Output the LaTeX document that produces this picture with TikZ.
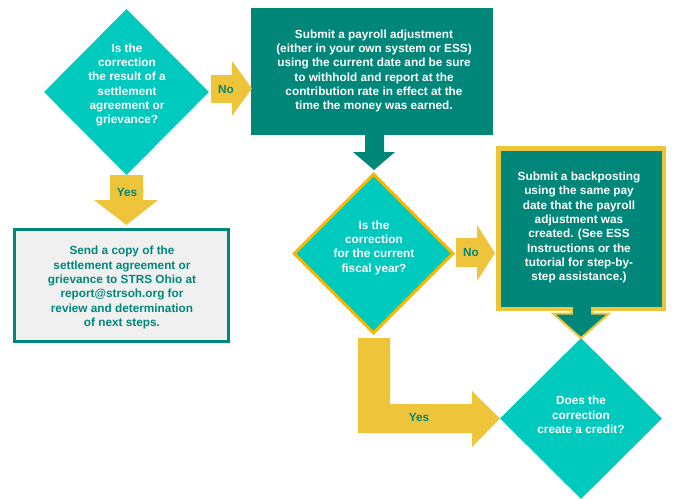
\documentclass[tikz,border=0pt]{standalone}
\usepackage{fontspec}
\setmainfont{Liberation Sans}
\usetikzlibrary{shapes.geometric}
\definecolor{aqua}{RGB}{0,201,190}
\definecolor{deepteal}{RGB}{0,135,122}
\definecolor{gold}{RGB}{238,196,58}
\definecolor{amber}{RGB}{248,186,0}
\definecolor{paper}{RGB}{240,240,240}
\tikzset{
  question/.style={diamond, fill=aqua, inner sep=0pt, aspect=1},
  qtext/.style={text=white, align=center, font=\fontsize{11.8}{14.3}\selectfont\bfseries},
  action/.style={rectangle, fill=deepteal, inner sep=0pt},
  atext/.style={text=white, align=center, font=\fontsize{11.8}{14.3}\selectfont\bfseries},
  blockarrow/.style={fill=gold, draw=none},
  tealarrow/.style={fill=deepteal, draw=none},
  answer/.style={text=deepteal, font=\fontsize{11.8}{14}\selectfont\bfseries},
}
\begin{document}
\begin{tikzpicture}[x=1pt,y=-1pt]
\useasboundingbox (0,0) rectangle (695,498);

% decision: settlement or grievance
\node[question, minimum width=165pt, minimum height=166pt] (q1) at (126.5,92) {};
\node[qtext] (q1t) at (127,85) {Is the\\correction\\the result of a\\settlement\\agreement or\\grievance?};

% payroll adjustment box
\node[action, minimum width=242pt, minimum height=127pt] (adj) at (372,71.5) {};
\node[atext] (adjt) at (374,71) {Submit a payroll adjustment\\(either in your own system or ESS)\\using the current date and be sure\\to withhold and report at the\\contribution rate in effect at the\\time the money was earned.};

% settlement box
\node[rectangle, fill=paper, draw=deepteal, line width=3pt, minimum width=214pt, minimum height=112pt] (send) at (121.5,285.5) {};
\node[answer, align=center, font=\fontsize{11.8}{14.3}\selectfont\bfseries] (sendt) at (122,287.5) {Send a copy of the\\settlement agreement or\\grievance to STRS Ohio at\\report@strsoh.org for\\review and determination\\of next steps.};

% decision: current fiscal year
\node[question, draw=amber, line width=3pt, minimum width=160pt, minimum height=160pt] (q2) at (373.5,253.5) {};
\node[qtext] (q2t) at (374,247.5) {Is the\\correction\\for the current\\fiscal year?};

% backposting box
\node[action, draw=gold, line width=4.5pt, minimum width=165.5pt, minimum height=160.5pt] (back) at (581,228.5) {};
\node[atext] (backt) at (579,227.5) {Submit a backposting\\using the same pay\\date that the payroll\\adjustment was\\created. (See ESS\\Instructions or the\\tutorial for step-by-\\step assistance.)};

% decision: credit
\node[question, minimum width=162pt, minimum height=161pt] (q3) at (581,418.5) {};
\node[qtext] (q3t) at (581,415) {Does the\\correction\\create a credit?};

% block arrows
\fill[blockarrow] (211,75) -- (232,75) -- (232,61) -- (252,88.5) -- (232,116) -- (232,103) -- (211,103) -- cycle;
\node[answer] (no1) at (226,89) {No};

\fill[tealarrow] (365,134) -- (384,134) -- (384,152) -- (395,152) -- (374,170) -- (353,152) -- (365,152) -- cycle;

\fill[blockarrow] (110,175) -- (143,175) -- (143,200) -- (158,200) -- (126.5,225) -- (94,200) -- (110,200) -- cycle;
\node[answer] (yes1) at (127,192) {Yes};

\fill[blockarrow] (456,238) -- (477,238) -- (477,225) -- (495,253) -- (477,281) -- (477,267) -- (456,267) -- cycle;
\node[answer] (no2) at (471,252.5) {No};

\filldraw[fill=deepteal, draw=gold, line width=2pt, line join=miter] (572,311) -- (592,311) -- (592,313.5) -- (609,313.5) -- (581,338) -- (553,313.5) -- (572,313.5) -- cycle;
\fill[deepteal] (573,306) rectangle (591,314);

\fill[blockarrow] (358,338) -- (390,338) -- (390,404) -- (472,404) -- (472,391) -- (500,418.5) -- (472,447) -- (472,433) -- (358,433) -- cycle;
\node[answer] (yes2) at (419,417.5) {Yes};
\end{tikzpicture}
\end{document}
